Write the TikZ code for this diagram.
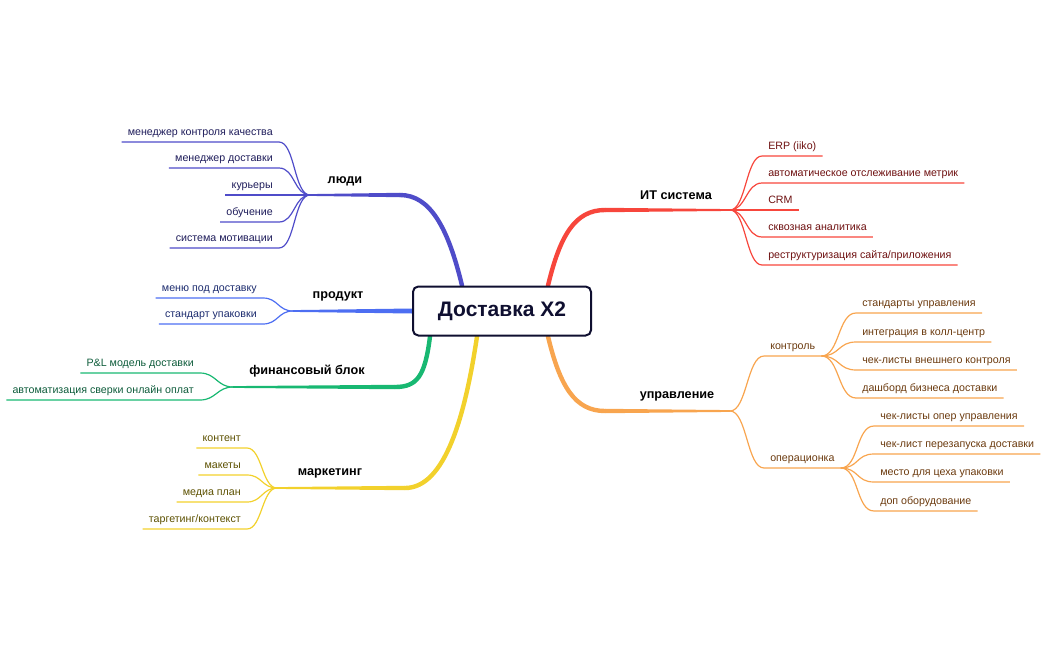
\documentclass[tikz,border=0pt]{standalone}
\usepackage{fontspec}
\setmainfont{Liberation Sans}
\usetikzlibrary{calc,backgrounds}

\definecolor{peopleline}{HTML}{4F4CC9}
\definecolor{peopletext}{HTML}{1E1C5A}
\definecolor{productline}{HTML}{4D6EF2}
\definecolor{producttext}{HTML}{1C2B6E}
\definecolor{financeline}{HTML}{18B872}
\definecolor{financetext}{HTML}{0E5C3B}
\definecolor{marketline}{HTML}{F2D12C}
\definecolor{markettext}{HTML}{5C5000}
\definecolor{itline}{HTML}{F7463C}
\definecolor{ittext}{HTML}{6E1010}
\definecolor{mgmtline}{HTML}{F8A54F}
\definecolor{mgmttext}{HTML}{6B3A0E}
\definecolor{boxline}{HTML}{0F0F30}

\tikzset{
  leaf/.style={font=\fontsize{8}{10}\selectfont, inner xsep=4.5pt, inner ysep=3pt,
    text height=6pt, text depth=2pt},
  branch/.style={font=\fontsize{9.5}{12}\selectfont\bfseries, text=black},
  trunk/.style={line width=3.3pt, line cap=round},
  twig/.style={line width=0.9pt},
}

\begin{document}
\begin{tikzpicture}[x=0.75pt,y=-0.75pt]
  \useasboundingbox (0,0) rectangle (1048,650);

  % --- Central node ---
  \node[draw=boxline, line width=1.5pt, rounded corners=4pt, fill=white,
    minimum width=133.5pt, minimum height=36.75pt, text=boxline,
    font=\fontsize{15.75}{18}\selectfont\bfseries] (title) at (502,311) {Доставка Х2};

  % --- Branch junctions and bends ---
  \coordinate (people) at (310,195);
  \coordinate (peoplebend) at (400,195);
  \coordinate (product) at (293,311);
  \coordinate (finance) at (233,387);
  \coordinate (financebend) at (395,387);
  \coordinate (market) at (277,488);
  \coordinate (marketbend) at (405,488);
  \coordinate (it) at (730,210);
  \coordinate (itbend) at (605,210);
  \coordinate (mgmt) at (730,411);
  \coordinate (mgmtbend) at (605,411);

  % --- Trunks (behind the central node) ---
  \begin{scope}[on background layer]
    \draw[trunk, peopleline] ($(title.north)+(-40,0)$) .. controls +(-14,-58) and +(30,0) .. (peoplebend);
    \fill[peopleline] ($(people)+(0,-0.9)$) -- ($(peoplebend)+(0,-2.2)$) -- ($(peoplebend)+(0,2.2)$) -- ($(people)+(0,0.9)$) -- cycle;

    \fill[productline] ($(product)+(0,-0.9)$) -- ($(title.west)+(0,-2.5)$) -- ($(title.west)+(0,2.5)$) -- ($(product)+(0,0.9)$) -- cycle;

    \draw[trunk, financeline] ($(title.south)+(-72,0)$) .. controls +(-5,40) and +(22,0) .. (financebend);
    \fill[financeline] ($(finance)+(0,-0.9)$) -- ($(financebend)+(0,-2.2)$) -- ($(financebend)+(0,2.2)$) -- ($(finance)+(0,0.9)$) -- cycle;

    \draw[trunk, marketline] ($(title.south)+(-25,0)$) .. controls +(-12,80) and +(40,0) .. (marketbend);
    \fill[marketline] ($(market)+(0,-0.9)$) -- ($(marketbend)+(0,-2.2)$) -- ($(marketbend)+(0,2.2)$) -- ($(market)+(0,0.9)$) -- cycle;

    \draw[trunk, itline] ($(title.north)+(46,0)$) .. controls +(12,-50) and +(-30,0) .. (itbend);
    \fill[itline] ($(it)+(0,-0.9)$) -- ($(itbend)+(0,-2.2)$) -- ($(itbend)+(0,2.2)$) -- ($(it)+(0,0.9)$) -- cycle;

    \draw[trunk, mgmtline] ($(title.south)+(46,0)$) .. controls +(12,50) and +(-30,0) .. (mgmtbend);
    \fill[mgmtline] ($(mgmt)+(0,-0.9)$) -- ($(mgmtbend)+(0,-2.2)$) -- ($(mgmtbend)+(0,2.2)$) -- ($(mgmt)+(0,0.9)$) -- cycle;
  \end{scope}

  % --- Branch labels ---
  \node[branch] (peoplelabel) at (345,181) {люди};
  \node[branch] (productlabel) at (338,296) {продукт};
  \node[branch] (financelabel) at (307,371) {финансовый блок};
  \node[branch] (marketlabel) at (330,473) {маркетинг};
  \node[branch] (itlabel) at (676,195) {ИТ система};
  \node[branch] (mgmtlabel) at (677,396) {управление};

  % --- People leaves ---
  \node[leaf, text=peopletext, anchor=south east] (p1) at (279,142) {менеджер контроля качества};
  \node[leaf, text=peopletext, anchor=south east] (p2) at (279,168) {менеджер доставки};
  \node[leaf, text=peopletext, anchor=south east] (p3) at (279,195) {курьеры};
  \node[leaf, text=peopletext, anchor=south east] (p4) at (279,222) {обучение};
  \node[leaf, text=peopletext, anchor=south east] (p5) at (279,248) {система мотивации};
  \draw[twig, peopleline] (p1.south west) -- (p1.south east) .. controls +(16,0) and +(-16,0) .. (people);
  \draw[twig, peopleline] (p2.south west) -- (p2.south east) .. controls +(16,0) and +(-16,0) .. (people);
  \draw[twig, peopleline] (p3.south west) -- (people);
  \draw[twig, peopleline] (p4.south west) -- (p4.south east) .. controls +(16,0) and +(-16,0) .. (people);
  \draw[twig, peopleline] (p5.south west) -- (p5.south east) .. controls +(16,0) and +(-16,0) .. (people);

  % --- Product leaves ---
  \node[leaf, text=producttext, anchor=south east] (r1) at (263,298) {меню под доставку};
  \node[leaf, text=producttext, anchor=south east] (r2) at (263,324) {стандарт упаковки};
  \draw[twig, productline] (r1.south west) -- (r1.south east) .. controls +(15,0) and +(-15,0) .. (product);
  \draw[twig, productline] (r2.south west) -- (r2.south east) .. controls +(15,0) and +(-15,0) .. (product);

  % --- Finance leaves ---
  \node[leaf, text=financetext, anchor=south east] (f1) at (200,373) {P\&L модель доставки};
  \node[leaf, text=financetext, anchor=south east] (f2) at (200,400) {автоматизация сверки онлайн оплат};
  \draw[twig, financeline] (f1.south west) -- (f1.south east) .. controls +(16,0) and +(-16,0) .. (finance);
  \draw[twig, financeline] (f2.south west) -- (f2.south east) .. controls +(16,0) and +(-16,0) .. (finance);

  % --- Marketing leaves ---
  \node[leaf, text=markettext, anchor=south east] (m1) at (247,448) {контент};
  \node[leaf, text=markettext, anchor=south east] (m2) at (247,475) {макеты};
  \node[leaf, text=markettext, anchor=south east] (m3) at (247,502) {медиа план};
  \node[leaf, text=markettext, anchor=south east] (m4) at (247,529) {таргетинг/контекст};
  \draw[twig, marketline] (m1.south west) -- (m1.south east) .. controls +(15,0) and +(-15,0) .. (market);
  \draw[twig, marketline] (m2.south west) -- (m2.south east) .. controls +(15,0) and +(-15,0) .. (market);
  \draw[twig, marketline] (m3.south west) -- (m3.south east) .. controls +(15,0) and +(-15,0) .. (market);
  \draw[twig, marketline] (m4.south west) -- (m4.south east) .. controls +(15,0) and +(-15,0) .. (market);

  % --- IT leaves ---
  \node[leaf, text=ittext, anchor=south west] (i1) at (762,156) {ERP (iiko)};
  \node[leaf, text=ittext, anchor=south west] (i2) at (762,183) {автоматическое отслеживание метрик};
  \node[leaf, text=ittext, anchor=south west] (i3) at (762,210) {CRM};
  \node[leaf, text=ittext, anchor=south west] (i4) at (762,237) {сквозная аналитика};
  \node[leaf, text=ittext, anchor=south west] (i5) at (762,265) {реструктуризация сайта/приложения};
  \draw[twig, itline] (it) .. controls +(16,0) and +(-16,0) .. (i1.south west) -- (i1.south east);
  \draw[twig, itline] (it) .. controls +(16,0) and +(-16,0) .. (i2.south west) -- (i2.south east);
  \draw[twig, itline] (it) -- (i3.south west) -- (i3.south east);
  \draw[twig, itline] (it) .. controls +(16,0) and +(-16,0) .. (i4.south west) -- (i4.south east);
  \draw[twig, itline] (it) .. controls +(16,0) and +(-16,0) .. (i5.south west) -- (i5.south east);

  % --- Management sub-branches ---
  \node[leaf, text=mgmttext, anchor=south west] (ctrl) at (764,356) {контроль};
  \node[leaf, text=mgmttext, anchor=south west] (ops) at (764,468) {операционка};
  \draw[twig, mgmtline] (mgmt) .. controls +(17,0) and +(-17,0) .. (ctrl.south west) -- (ctrl.south east);
  \draw[twig, mgmtline] (mgmt) .. controls +(17,0) and +(-17,0) .. (ops.south west) -- (ops.south east);

  % --- Control leaves ---
  \node[leaf, text=mgmttext, anchor=south west] (c1) at (856,313) {стандарты управления};
  \node[leaf, text=mgmttext, anchor=south west] (c2) at (856,342) {интеграция в колл-центр};
  \node[leaf, text=mgmttext, anchor=south west] (c3) at (856,370) {чек-листы внешнего контроля};
  \node[leaf, text=mgmttext, anchor=south west] (c4) at (856,398) {дашборд бизнеса доставки};
  \draw[twig, mgmtline] (ctrl.south east) .. controls +(18,0) and +(-18,0) .. (c1.south west) -- (c1.south east);
  \draw[twig, mgmtline] (ctrl.south east) .. controls +(18,0) and +(-18,0) .. (c2.south west) -- (c2.south east);
  \draw[twig, mgmtline] (ctrl.south east) .. controls +(18,0) and +(-18,0) .. (c3.south west) -- (c3.south east);
  \draw[twig, mgmtline] (ctrl.south east) .. controls +(18,0) and +(-18,0) .. (c4.south west) -- (c4.south east);

  % --- Operations leaves ---
  \node[leaf, text=mgmttext, anchor=south west] (o1) at (874,426) {чек-листы опер управления};
  \node[leaf, text=mgmttext, anchor=south west] (o2) at (874,454) {чек-лист перезапуска доставки};
  \node[leaf, text=mgmttext, anchor=south west] (o3) at (874,482) {место для цеха упаковки};
  \node[leaf, text=mgmttext, anchor=south west] (o4) at (874,511) {доп оборудование};
  \draw[twig, mgmtline] (ops.south east) .. controls +(18,0) and +(-18,0) .. (o1.south west) -- (o1.south east);
  \draw[twig, mgmtline] (ops.south east) .. controls +(18,0) and +(-18,0) .. (o2.south west) -- (o2.south east);
  \draw[twig, mgmtline] (ops.south east) .. controls +(18,0) and +(-18,0) .. (o3.south west) -- (o3.south east);
  \draw[twig, mgmtline] (ops.south east) .. controls +(18,0) and +(-18,0) .. (o4.south west) -- (o4.south east);

\end{tikzpicture}
\end{document}
